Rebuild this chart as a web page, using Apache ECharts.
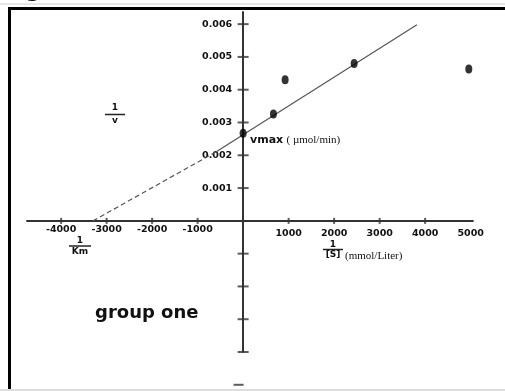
<!DOCTYPE html>
<html>
<head>
<meta charset="utf-8">
<script src="https://cdn.jsdelivr.net/npm/echarts@6/dist/echarts.min.js"></script>
<style>
  html, body { margin: 0; padding: 0; background: #fff; }
  #chart { width: 505px; height: 391px; }
</style>
</head>
<body>
<div id="chart"></div>
<script>
// Lineweaver-Burk plot, group one
const pointsX = [0, 666, 923, 2440, 4960];
const pointsY = [0.00267, 0.00326, 0.0043, 0.0048, 0.00463];

// fitted line: solid part and dashed extrapolation to -1/Km
const fitSolid = [[-600, 0.0021], [3820, 0.00598]];
const fitDashed = [[-3300, 0], [-600, 0.0021]];

const xTickValues = [-4000, -3000, -2000, -1000, 1000, 2000, 3000, 4000];
const xLabelValues = [-4000, -3000, -2000, -1000, 1000, 2000, 3000, 4000, 5000];
const yTickValues = [0.001, 0.002, 0.003, 0.004, 0.005, 0.006, -0.001, -0.002, -0.003, -0.004];
const yLabelValues = [0.001, 0.002, 0.003, 0.004, 0.005, 0.006];
const yLooseTick = [-0.005];

const bold = "DejaVu Sans";
const serif = "Liberation Serif";

const gridLeft = 27, gridTop = 12, gridW = 445.9, gridH = 340;
const xMin = -4750, xMax = 5050, yMin = -0.004, yMax = 0.00637;
// put the axes through the origin
const yAxisShift = -(0 - xMin) / (xMax - xMin) * gridW;
const xAxisShift = -(0 - yMin) / (yMax - yMin) * gridH;

const chart = echarts.init(document.getElementById("chart"));

const frac = (cx, y1, yLine, y2, top, bottom, half) => [
  { type: "text", style: { x: cx, y: y1, text: top, font: "bold 9px " + bold, fill: "#111", align: "center", verticalAlign: "middle" } },
  { type: "line", shape: { x1: cx - half, y1: yLine, x2: cx + half, y2: yLine }, style: { stroke: "#222", lineWidth: 1.5 } },
  { type: "text", style: { x: cx, y: y2, text: bottom, font: "bold 9px " + bold, fill: "#111", align: "center", verticalAlign: "middle" } },
];

chart.setOption({
  animation: false,
  backgroundColor: "#fff",
  grid: { left: gridLeft, top: gridTop, width: gridW, height: gridH, containLabel: false, outerBoundsMode: "none" },
  xAxis: {
    type: "value",
    min: xMin,
    max: xMax,
    position: "bottom",
    offset: xAxisShift,
    splitLine: { show: false },
    axisLine: { onZero: false, lineStyle: { color: "#333", width: 2 } },
    axisTick: { show: false },
    axisLabel: {
      customValues: xLabelValues,
      margin: 4,
      formatter: (v) => (v < 0 ? "{n|" + v + "}" : "{p|" + v + "}"),
      rich: {
        n: { fontFamily: bold, fontWeight: "bold", fontSize: 9.5, color: "#111" },
        p: { fontFamily: bold, fontWeight: "bold", fontSize: 9.5, color: "#111", padding: [4, 0, 0, 0] },
      },
    },
  },
  yAxis: {
    type: "value",
    min: yMin,
    max: yMax,
    position: "left",
    offset: yAxisShift,
    splitLine: { show: false },
    axisLine: { onZero: false, lineStyle: { color: "#333", width: 2 } },
    axisTick: { show: false },
    axisLabel: {
      customValues: yLabelValues,
      margin: 11,
      fontFamily: bold,
      fontWeight: "bold",
      fontSize: 9.5,
      color: "#111",
      formatter: (v) => v.toFixed(3),
    },
  },
  series: [
    {
      type: "line",
      data: fitDashed,
      showSymbol: false,
      lineStyle: { color: "#555", width: 1.2, type: [5, 3] },
    },
    {
      type: "line",
      data: fitSolid,
      showSymbol: false,
      lineStyle: { color: "#555", width: 1.2 },
    },
    {
      type: "scatter",
      data: xTickValues.map((v) => [v, 0]),
      symbol: "rect",
      symbolSize: [2, 6],
      itemStyle: { color: "#333" },
    },
    {
      type: "scatter",
      data: yTickValues.map((v) => [0, v]),
      symbol: "rect",
      symbolSize: [11, 2],
      itemStyle: { color: "#333" },
    },
    {
      type: "scatter",
      clip: false,
      data: yLooseTick.map((v) => [-100, v]),
      symbol: "rect",
      symbolSize: [10, 2],
      itemStyle: { color: "#333" },
    },
    {
      type: "scatter",
      data: pointsX.map((x, i) => [x, pointsY[i]]),
      symbol: "circle",
      symbolSize: [7, 9],
      itemStyle: { color: "#000" },
      z: 5,
    },
  ],
  graphic: [
    { type: "line", shape: { x1: 0, y1: 4, x2: 505, y2: 4 }, style: { stroke: "#ccc", lineWidth: 1 } },
    { type: "text", style: { x: 26, y: -18, text: "g", font: "bold 20px " + bold, fill: "#000" } },
    { type: "rect", shape: { x: 9.5, y: 8.5, width: 520, height: 400 }, style: { fill: "none", stroke: "#000", lineWidth: 3 } },
    { type: "line", shape: { x1: 0, y1: 390, x2: 505, y2: 390 }, style: { stroke: "#ddd", lineWidth: 2 } },
    ...frac(115, 108, 114.5, 121, "1", "v", 10),
    ...frac(80, 240.5, 246, 252, "1", "Km", 11),
    ...frac(333, 244.5, 249.5, 255, "1", "[S]", 10),
    {
      type: "text",
      style: { x: 345, y: 256, text: "(mmol/Liter)", font: "11px " + serif, fill: "#111", verticalAlign: "middle" },
    },
    {
      type: "text",
      style: {
        x: 250,
        y: 140,
        text: "{b|vmax} {s|( µmol/min)}",
        verticalAlign: "middle",
        rich: {
          b: { fontFamily: bold, fontWeight: "bold", fontSize: 11, fill: "#111" },
          s: { fontFamily: serif, fontSize: 11, fill: "#111" },
        },
      },
    },
    {
      type: "text",
      style: { x: 95, y: 313, text: "group one", font: "bold 18px " + bold, fill: "#111", verticalAlign: "middle" },
    },
  ],
});
</script>
</body>
</html>
